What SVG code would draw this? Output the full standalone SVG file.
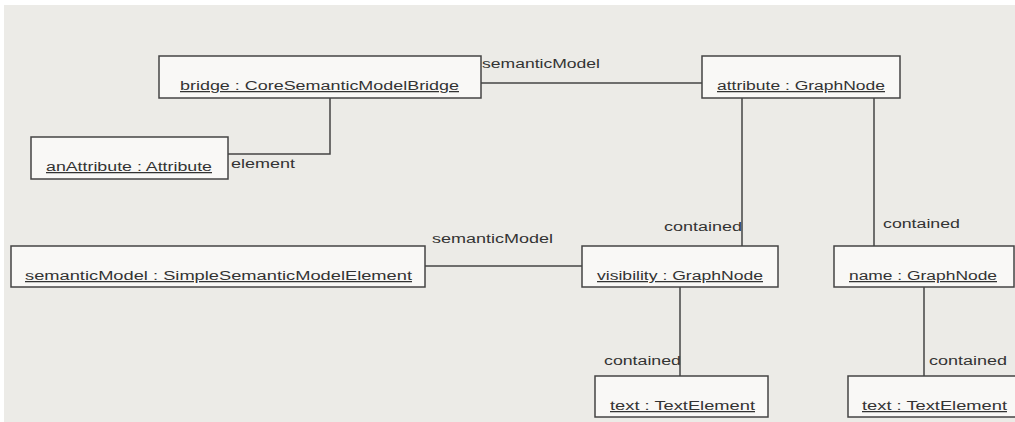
<svg xmlns="http://www.w3.org/2000/svg" width="1015" height="422" viewBox="0 0 1015 422">
<style>
.node rect{fill:#f9f8f6;stroke:#444;stroke-width:1.5}
.t{font-family:"Liberation Sans",Arial,sans-serif;font-size:12.5px;fill:#333;text-decoration:underline}
.l{font-family:"Liberation Sans",Arial,sans-serif;font-size:12.5px;fill:#333}
#connectors path{fill:none;stroke:#444;stroke-width:1.5}
</style>
<rect x="0" y="0" width="1015" height="422" fill="#ffffff"/>
<rect x="4" y="5" width="1011" height="417" fill="#ecebe7"/>
<g id="connectors">
<path d="M481 83 H702"/>
<path d="M330 98 V154 H228"/>
<path d="M425 266 H582"/>
<path d="M742 98 V246"/>
<path d="M874 98 V246"/>
<path d="M680 287 V376"/>
<path d="M924 287 V376"/>
</g>
<g id="labels">
<text class="l" x="482" y="68" textLength="118" lengthAdjust="spacingAndGlyphs">semanticModel</text>
<text class="l" x="231" y="168" textLength="64" lengthAdjust="spacingAndGlyphs">element</text>
<text class="l" x="432" y="243" textLength="121" lengthAdjust="spacingAndGlyphs">semanticModel</text>
<text class="l" x="664" y="231" textLength="78" lengthAdjust="spacingAndGlyphs">contained</text>
<text class="l" x="883" y="228" textLength="77" lengthAdjust="spacingAndGlyphs">contained</text>
<text class="l" x="604" y="365" textLength="77" lengthAdjust="spacingAndGlyphs">contained</text>
<text class="l" x="929" y="365" textLength="78" lengthAdjust="spacingAndGlyphs">contained</text>
</g>
<g id="bridge" class="node"><rect x="159" y="56" width="322" height="42"/><text class="t" x="180" y="90" textLength="279" lengthAdjust="spacingAndGlyphs">bridge : CoreSemanticModelBridge</text></g>
<g id="anAttribute" class="node"><rect x="31" y="137" width="197" height="42"/><text class="t" x="46" y="171" textLength="166" lengthAdjust="spacingAndGlyphs">anAttribute : Attribute</text></g>
<g id="attribute" class="node"><rect x="702" y="56" width="198" height="42"/><text class="t" x="717" y="90" textLength="168" lengthAdjust="spacingAndGlyphs">attribute : GraphNode</text></g>
<g id="semanticModel" class="node"><rect x="11" y="246" width="414" height="41"/><text class="t" x="25" y="280" textLength="387" lengthAdjust="spacingAndGlyphs">semanticModel : SimpleSemanticModelElement</text></g>
<g id="visibility" class="node"><rect x="582" y="246" width="196" height="41"/><text class="t" x="597" y="280" textLength="166" lengthAdjust="spacingAndGlyphs">visibility : GraphNode</text></g>
<g id="name" class="node"><rect x="834" y="246" width="180" height="41"/><text class="t" x="849" y="280" textLength="148" lengthAdjust="spacingAndGlyphs">name : GraphNode</text></g>
<g id="text1" class="node"><rect x="595" y="376" width="173" height="41"/><text class="t" x="610" y="410" textLength="145" lengthAdjust="spacingAndGlyphs">text : TextElement</text></g>
<g id="text2" class="node"><rect x="848" y="376" width="180" height="41"/><text class="t" x="862" y="410" textLength="145" lengthAdjust="spacingAndGlyphs">text : TextElement</text></g>
</svg>
